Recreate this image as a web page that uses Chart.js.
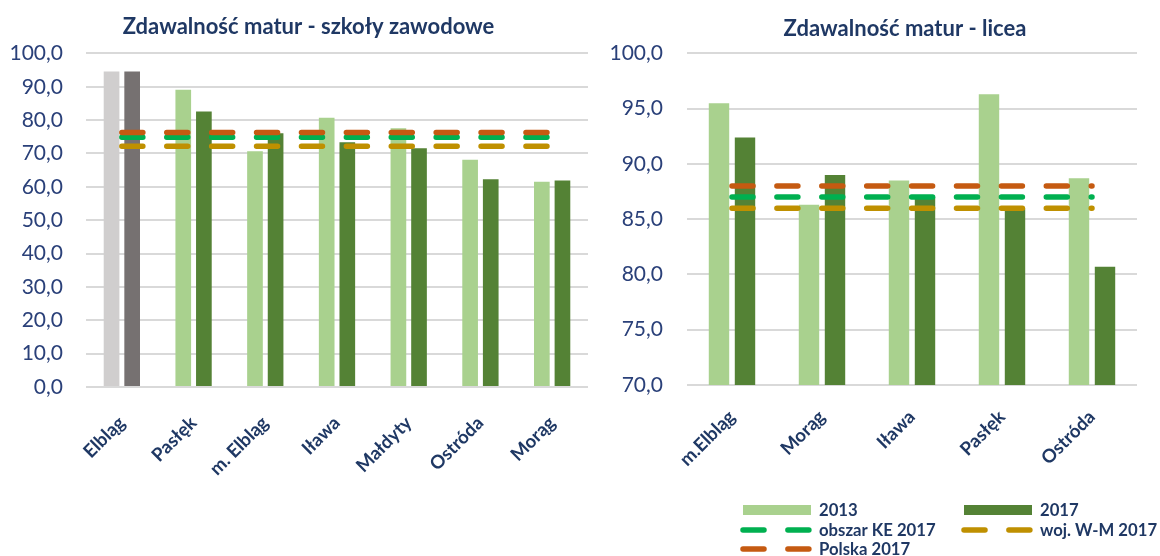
<!DOCTYPE html>
<html><head><meta charset="utf-8">
<script src="https://cdn.jsdelivr.net/npm/chart.js@4.4.1/dist/chart.umd.min.js"></script>
<style>
html,body{margin:0;padding:0;background:#fff;width:1160px;height:556px;overflow:hidden}
canvas{position:absolute;top:0}
#c1{left:0}
#c2{left:600px}
</style></head>
<body>
<canvas id="c1" width="600" height="556"></canvas>
<canvas id="c2" width="560" height="556"></canvas>
<script>
// ---- Data: vocational schools (left) ----
const vocTitle = 'Zdawalność matur - szkoły zawodowe';
const vocCategories = ['Elbląg', 'Pasłęk', 'm. Elbląg', 'Iława', 'Małdyty', 'Ostróda', 'Morąg'];
const voc2013 = [94.6, 89.1, 70.7, 80.7, 77.6, 68.1, 61.5];
const voc2017 = [94.6, 82.6, 76.1, 73.4, 71.6, 62.3, 61.9];
const vocKE2017 = [74.9, 74.9, 74.9, 74.9, 74.9, 74.9, 74.9];
const vocWM2017 = [72.2, 72.2, 72.2, 72.2, 72.2, 72.2, 72.2];
const vocPL2017 = [76.3, 76.3, 76.3, 76.3, 76.3, 76.3, 76.3];
const vocTicks = [0, 10, 20, 30, 40, 50, 60, 70, 80, 90, 100];

// ---- Data: high schools (right) ----
const licTitle = 'Zdawalność matur - licea';
const licCategories = ['m.Elbląg', 'Morąg', 'Iława', 'Pasłęk', 'Ostróda'];
const lic2013 = [95.5, 86.3, 88.5, 96.3, 88.7];
const lic2017 = [92.4, 89.0, 87.0, 86.0, 80.7];
const licKE2017 = [87.0, 87.0, 87.0, 87.0, 87.0];
const licWM2017 = [86.0, 86.0, 86.0, 86.0, 86.0];
const licPL2017 = [88.0, 88.0, 88.0, 88.0, 88.0];
const licTicks = [70, 75, 80, 85, 90, 95, 100];

const seriesLabels = ['2013', '2017', 'obszar KE 2017', 'woj. W-M 2017', 'Polska 2017'];

// ---- Styles ----
const FONT = 'Lato, "Liberation Sans", sans-serif';
const NAVY = '#1F3864';
const TICKNAVY = '#2A4079';
const C2013 = '#A9D18E', C2017 = '#548235';
const GRAY13 = '#D0CECE', GRAY17 = '#767171';
const CKE = '#00B050', CWM = '#BF9000', CPL = '#C55A11';
const GRID = '#D9D9D9';
const DASH = [21, 23.9];
const fmt = v => Number(v).toFixed(1).replace('.', ',');

function lineDs(label, data, color, order) {
  return { type: 'line', label, data, borderColor: color, backgroundColor: color,
    borderWidth: 5.5, borderDash: DASH, borderCapStyle: 'round', pointRadius: 0,
    pointHoverRadius: 0, fill: false, tension: 0, order };
}

function makeOptions(o) {
  return {
    responsive: false, animation: false,
    layout: { padding: o.padding },
    plugins: {
      legend: { display: false }, tooltip: { enabled: false },
      title: { display: true, text: o.title, color: NAVY,
        font: { family: FONT, size: 22, weight: 'bold' }, padding: o.titlePad },
      gridLegend: o.legend || false
    },
    scales: {
      x: {
        grid: { display: false, drawTicks: false }, border: { display: false },
        ticks: { color: NAVY, font: { family: FONT, size: 18.5, weight: 'bold' },
          maxRotation: 45, minRotation: 45, autoSkip: false, padding: o.xPad },
        afterFit: s => { s.height = o.xHeight; }
      },
      y: {
        min: o.ticks[0], max: o.ticks[o.ticks.length - 1],
        afterBuildTicks: s => { s.ticks = o.ticks.map(v => ({ value: v })); },
        grid: { color: GRID, lineWidth: 2, drawTicks: false }, border: { display: false },
        ticks: { color: TICKNAVY, font: { family: FONT, size: 21 }, padding: o.yPad, callback: fmt },
        afterFit: s => {
          s.width = o.yWidth;
          // let the tick labels extend left of the (narrow) axis box without being clipped
          s._computeLabelArea = () => null;
        }
      }
    },
    datasets: { bar: { categoryPercentage: o.catPct, barPercentage: o.barPct } }
  };
}

const gridLegend = {
  id: 'gridLegend',
  afterDraw(chart, args, opts) {
    if (!opts || !opts.x) return;
    const ctx = chart.ctx;
    ctx.save();
    chart.data.datasets.forEach((ds, i) => {
      const col = i % 2, row = Math.floor(i / 2);
      const x0 = opts.x[col], y = opts.y[row], w = opts.markerWidth;
      if (ds.type === 'line') {
        ctx.strokeStyle = ds.borderColor; ctx.lineWidth = ds.borderWidth;
        ctx.lineCap = 'round'; ctx.setLineDash(ds.borderDash);
        ctx.beginPath(); ctx.moveTo(x0, y); ctx.lineTo(x0 + w, y); ctx.stroke();
        ctx.setLineDash([]);
      } else {
        ctx.fillStyle = ds.backgroundColor;
        ctx.fillRect(x0, y - opts.barHeight / 2, w, opts.barHeight);
      }
      ctx.fillStyle = NAVY;
      ctx.font = 'bold ' + opts.fontSize + 'px ' + FONT;
      ctx.textAlign = 'left'; ctx.textBaseline = 'middle';
      ctx.fillText(ds.label, x0 + w + opts.gap, y + 1);
    });
    ctx.restore();
  }
};
Chart.register(gridLegend);

// ---- Left chart ----
const vocColors13 = vocCategories.map(c => c === 'Elbląg' ? GRAY13 : C2013);
const vocColors17 = vocCategories.map(c => c === 'Elbląg' ? GRAY17 : C2017);
new Chart(document.getElementById('c1'), {
  type: 'bar',
  data: {
    labels: vocCategories,
    datasets: [
      { label: seriesLabels[0], data: voc2013, backgroundColor: vocColors13, order: 3 },
      { label: seriesLabels[1], data: voc2017, backgroundColor: vocColors17, order: 3 },
      lineDs(seriesLabels[2], vocKE2017, CKE, 1),
      lineDs(seriesLabels[3], vocWM2017, CWM, 1),
      lineDs(seriesLabels[4], vocPL2017, CPL, 0)
    ]
  },
  options: makeOptions({ title: vocTitle, padding: { left: 29, right: 12, top: 0, bottom: 0 },
    titlePad: { top: 14, bottom: 13 }, xPad: 25, xHeight: 169, yPad: 23, yWidth: 57,
    ticks: vocTicks, catPct: 0.575, barPct: 0.76 })
});

// ---- Right chart ----
new Chart(document.getElementById('c2'), {
  type: 'bar',
  data: {
    labels: licCategories,
    datasets: [
      { label: seriesLabels[0], data: lic2013, backgroundColor: C2013, order: 3 },
      { label: seriesLabels[1], data: lic2017, backgroundColor: C2017, order: 3 },
      lineDs(seriesLabels[2], licKE2017, CKE, 1),
      lineDs(seriesLabels[3], licWM2017, CWM, 1),
      lineDs(seriesLabels[4], licPL2017, CPL, 0)
    ]
  },
  options: makeOptions({ title: licTitle, padding: { left: 73, right: 23, top: 0, bottom: 0 },
    titlePad: { top: 16, bottom: 11 }, xPad: 21, xHeight: 171, yPad: 24, yWidth: 14,
    ticks: licTicks, catPct: 0.578, barPct: 0.785,
    legend: { x: [143, 364], y: [510, 530, 549], markerWidth: 68, barHeight: 10, gap: 8, fontSize: 16.7 } })
});
</script>
</body></html>
